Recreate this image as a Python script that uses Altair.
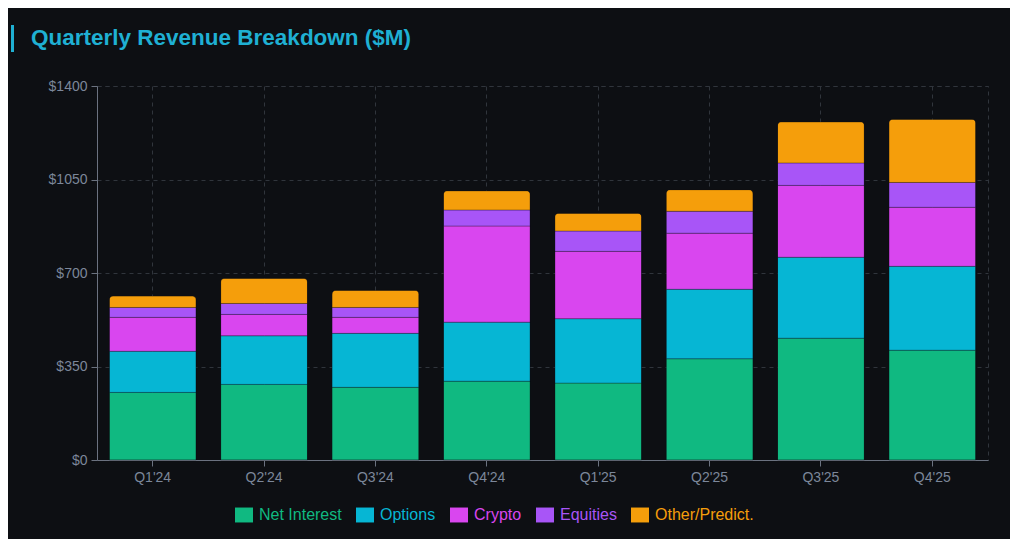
import altair as alt
import pandas as pd

quarters = ["Q1'24", "Q2'24", "Q3'24", "Q4'24", "Q1'25", "Q2'25", "Q3'25", "Q4'25"]
series = ["Net Interest", "Options", "Crypto", "Equities", "Other/Predict."]
colors = ["#10b981", "#06b6d4", "#d946ef", "#a855f7", "#f59e0b"]

net_interest = [253, 283, 272, 295, 288, 379, 456, 411]
options = [154, 182, 202, 221, 241, 260, 303, 314]
crypto = [127, 80, 60, 360, 252, 210, 269, 221]
equities = [37, 41, 37, 60, 76, 82, 84, 93]
other = [43, 94, 64, 72, 67, 81, 154, 237]

y_ticks = [0, 350, 700, 1050, 1400]

BG = "#0d0f13"
LABEL = "#7c879a"
AXIS = "#6b7280"
GRID = "#30353c"
TITLE = "#1fb0d3"
FONT = "Liberation Sans"

rows = []
for si, (name, vals) in enumerate(zip(series, [net_interest, options, crypto, equities, other])):
    for q, v in zip(quarters, vals):
        rows.append({"quarter": q, "series": name, "value": v, "order": si})
df = pd.DataFrame(rows)

bars = alt.Chart(df).mark_bar(
    cornerRadiusTopLeft=4, cornerRadiusTopRight=4,
    stroke=BG, strokeWidth=0.6, strokeOpacity=0.5,
).encode(
    x=alt.X("quarter:N", sort=quarters, title=None,
            scale=alt.Scale(paddingInner=0.22, paddingOuter=0.11),
            axis=alt.Axis(labelAngle=0, labelColor=LABEL, labelFontSize=14, labelFont=FONT,
                          domainColor=AXIS, tickColor=AXIS, tickSize=6, labelPadding=4,
                          grid=True, gridColor=GRID, gridDash=[4, 4])),
    y=alt.Y("value:Q", stack="zero", title=None,
            scale=alt.Scale(domain=[0, 1400], nice=False),
            axis=alt.Axis(values=y_ticks, labelExpr="'$' + datum.value", labelColor=LABEL,
                          labelFontSize=14, labelFont=FONT, domainColor=AXIS, tickColor=AXIS,
                          tickSize=6, labelPadding=4, grid=True, gridColor=GRID, gridDash=[4, 4])),
    color=alt.Color("series:N", scale=alt.Scale(domain=series, range=colors),
                    legend=alt.Legend(title=None, orient="none", legendX=138, legendY=420,
                                      direction="horizontal",
                                      symbolType="M-1,-0.83H1V0.83H-1Z",
                                      symbolSize=324, symbolStrokeWidth=0, symbolOpacity=1,
                                      labelFontSize=16, labelFont=FONT,
                                      labelColor={"expr": "scale('color', datum.value)"},
                                      columnPadding=14, labelOffset=6, padding=0)),
    order=alt.Order("order:Q", sort="ascending"),
)

accent = alt.Chart(pd.DataFrame({"k": [0]})).mark_rule(color=TITLE, strokeWidth=3).encode(
    x=alt.value(-84.5), y=alt.value(-61), y2=alt.value(-34)
)

chart = alt.layer(bars, accent).properties(
    width=891, height=374,
    padding={"left": 89, "top": 78, "right": 22, "bottom": 79},
    autosize=alt.AutoSizeParams(type="none"),
    background=BG,
    title=alt.Title("Quarterly Revenue Breakdown ($M)", anchor="start", frame="group",
                    dx=-66, offset=0, dy=26, fontSize=22.5, font=FONT, fontWeight="bold",
                    color=TITLE),
).configure_view(stroke=GRID, strokeDash=[4, 4])

chart.save("out.html", embed_options={"renderer": "svg", "actions": False})
